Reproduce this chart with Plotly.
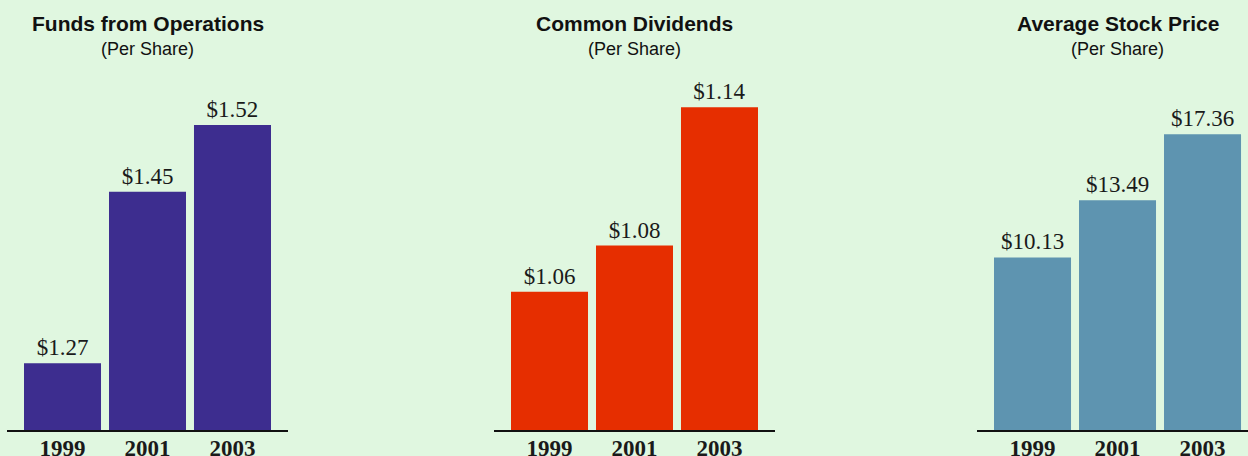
import plotly.graph_objects as go

years = ["1999", "2001", "2003"]
ffo = [1.27, 1.45, 1.52]
dividends = [1.06, 1.08, 1.14]
stock_price = [10.13, 13.49, 17.36]
ffo_labels = ["$1.27", "$1.45", "$1.52"]
div_labels = ["$1.06", "$1.08", "$1.14"]
stock_labels = ["$10.13", "$13.49", "$17.36"]
titles = ["Funds from Operations", "Common Dividends", "Average Stock Price"]
subtitle = "(Per Share)"
colors = ["#3D2D8F", "#E62E00", "#5E94B0"]

W, H = 1248, 456
BG = "#E0F7E0"
top, bottom = 70, 26
plot_h = H - top - bottom

series = [ffo, dividends, stock_price]
labels = [ffo_labels, div_labels, stock_labels]
y_ranges = [[1.2, 1.2 + plot_h / 953.0], [1.0, 1.0 + plot_h / 2305.0], [0.0, plot_h / 17.03]]
x_domains = [[7 / W, 288 / W], [494 / W, 775 / W], [977 / W, 1.0]]
x_ranges = [[-0.653, 2.653], [-0.653, 2.653], [-0.653, 2.535]]

fig = go.Figure()
layout = dict(
    width=W, height=H,
    margin=dict(l=0, r=0, t=top, b=bottom, autoexpand=False),
    paper_bgcolor=BG, plot_bgcolor=BG,
    showlegend=False, bargap=0.094,
    annotations=[],
)

for i in range(3):
    sfx = "" if i == 0 else str(i + 1)
    fig.add_trace(go.Bar(
        x=years, y=series[i], text=labels[i], textposition="outside",
        marker=dict(color=colors[i], line=dict(width=0)),
        textfont=dict(family="Liberation Serif", size=23, color="#1a1a1a"),
        xaxis="x" + sfx, yaxis="y" + sfx, hoverinfo="skip",
    ))
    layout["xaxis" + sfx] = dict(
        domain=x_domains[i], range=x_ranges[i], type="category",
        anchor="y" + sfx, showline=True, linecolor="#111111", linewidth=2,
        ticks="", showgrid=False, zeroline=False, fixedrange=True, automargin=False,
        ticklabelstandoff=-4,
        tickfont=dict(family="Liberation Serif", size=23, color="#1a1a1a", weight="bold"),
    )
    layout["yaxis" + sfx] = dict(
        domain=[0, 1], range=y_ranges[i], anchor="x" + sfx, visible=False,
        showgrid=False, zeroline=False, fixedrange=True, automargin=False,
    )
    # title centred over the middle category of each panel
    d0, d1 = x_domains[i]
    r0, r1 = x_ranges[i]
    cx = d0 + (1 - r0) / (r1 - r0) * (d1 - d0)
    layout["annotations"].append(dict(
        x=cx, xref="paper", y=(plot_h + top - 23) / plot_h, yref="paper",
        text="<b>" + titles[i] + "</b>", showarrow=False, yanchor="middle", xanchor="center",
        font=dict(family="Liberation Sans", size=21, color="#111111"),
    ))
    layout["annotations"].append(dict(
        x=cx, xref="paper", y=(plot_h + top - 49) / plot_h, yref="paper",
        text=subtitle, showarrow=False, yanchor="middle", xanchor="center",
        font=dict(family="Liberation Sans", size=18, color="#111111"),
    ))

fig.update_layout(**layout)
fig.write_html("out.html")
